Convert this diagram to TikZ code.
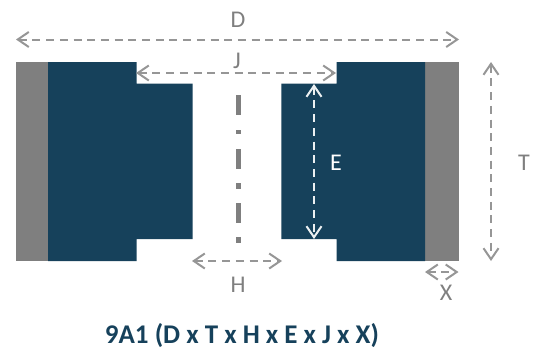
\documentclass[tikz,border=0pt]{standalone}
\usepackage{fontspec}
\setmainfont{Carlito}
\usetikzlibrary{arrows.meta}
\definecolor{navy}{HTML}{16415B}
\definecolor{midgray}{HTML}{7F7F7F}
\definecolor{dimgray}{HTML}{969696}
\tikzset{
  dimline/.style={dimgray,line width=2pt,dash pattern=on 8pt off 5.7pt,{Straight Barb[length=11pt,width=15pt,line width=2pt]}-{Straight Barb[length=11pt,width=15pt,line width=2pt]}},
  whitedim/.style={dimline,draw=white!92!navy},
  lbl/.style={font=\fontsize{24}{24}\selectfont,text=midgray,inner sep=0pt},
  axisseg/.style={midgray,line width=5pt},
}
\begin{document}
\begin{tikzpicture}[x=1pt,y=-1pt]
\useasboundingbox (0,0) rectangle (540,349);
\fill[midgray] (15.5,62) rectangle (48,261);
\fill[midgray] (425,62) rectangle (458.5,261);
\fill[navy] (48,62) -- (136.5,62) -- (136.5,83.5) -- (192.5,83.5) -- (192.5,239) -- (136.5,239) -- (136.5,261) -- (48,261) -- cycle;
\fill[navy] (425,62) -- (336.5,62) -- (336.5,83.5) -- (281.3,83.5) -- (281.3,239) -- (336.5,239) -- (336.5,261) -- (425,261) -- cycle;
\foreach \a/\b in {95/115,130/134,149/169,183/189,203/223,237/243}
  \draw[axisseg] (238,\a) -- (238,\b);
\coordinate (dl) at (16,39.5); \coordinate (dr) at (459,39.5);
\coordinate (jl) at (136,73); \coordinate (jr) at (336,73);
\coordinate (hl) at (192,261); \coordinate (hr) at (282,261);
\coordinate (et) at (314,84); \coordinate (eb) at (314,239);
\coordinate (tt) at (491,62); \coordinate (tb) at (491,261);
\coordinate (xl) at (425,272); \coordinate (xr) at (458.5,272);
\draw[dimline] (dl) -- (dr);
\draw[dimline] (jl) -- (jr);
\draw[dimline] (hl) -- (hr);
\draw[dimline] (tt) -- (tb);
\draw[dimline] (xl) -- (xr);
\draw[whitedim] (et) -- (eb);
\node[lbl] (labD) at (238,20) {D};
\node[lbl] (labJ) at (237,61) {J};
\node[lbl] (labH) at (238,285) {H};
\node[lbl,text=white] (labE) at (336,163) {E};
\node[lbl] (labT) at (524,163) {T};
\node[lbl] (labX) at (446,293) {X};
\node[inner sep=0pt,anchor=base,text=navy,font=\fontsize{27}{27}\selectfont\bfseries] (title) at (242,343.5) {9A1 (D x T x H x E x J x X)};
\end{tikzpicture}
\end{document}
